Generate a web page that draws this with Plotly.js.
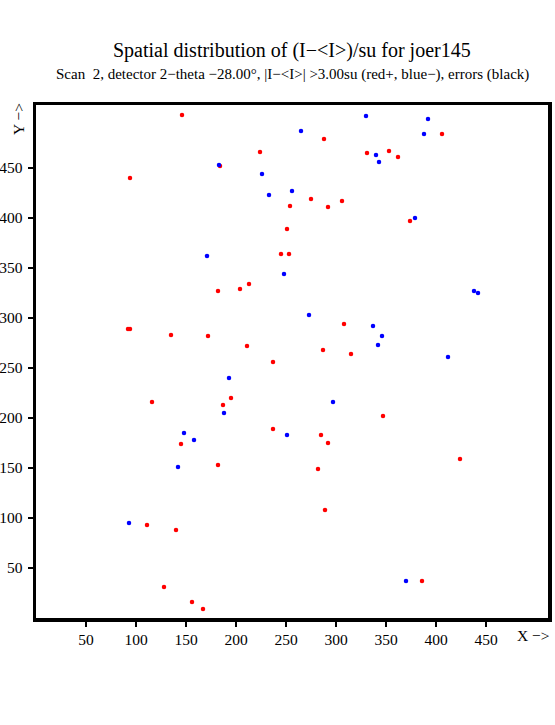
<!DOCTYPE html>
<html>
<head>
<meta charset="utf-8">
<script src="https://cdn.plot.ly/plotly-3.0.1.min.js"></script>
<style>html,body{margin:0;padding:0;background:#fff;}#chart{width:555px;height:725px;}</style>
</head>
<body>
<div id="chart"></div>
<script>
// Positive deviations (red+)
const redX = [146, 94, 184, 224, 288, 331, 353, 362, 406, 254, 275, 292, 306, 374, 251, 245, 253,
  182, 204, 213, 92, 94, 135, 172, 211, 237, 116, 195, 187, 237, 145, 308, 287, 315, 347, 285, 292,
  182, 111, 140, 128, 156, 167, 424, 282, 289, 386];
const redY = [503, 440, 452, 466, 479, 465, 467, 461, 484, 412, 419, 411, 417, 397, 389, 364, 364,
  327, 329, 334, 289, 289, 283, 282, 272, 256, 216, 220, 213, 189, 174, 294, 268, 264, 202, 183, 175,
  153, 93, 88, 31, 16, 9, 159, 149, 108, 37];
// Negative deviations (blue-)
const blueX = [183, 226, 233, 171, 330, 392, 265, 388, 340, 343, 256, 379, 248, 438, 442, 273, 337,
  346, 342, 412, 297, 251, 193, 188, 148, 158, 142, 93, 370];
const blueY = [453, 444, 423, 362, 502, 499, 487, 484, 463, 456, 427, 400, 344, 327, 325, 303, 292,
  282, 273, 261, 216, 183, 240, 205, 185, 178, 151, 95, 37];

const tickVals = [50, 100, 150, 200, 250, 300, 350, 400, 450];
const titleText = "Spatial distribution of (I−&lt;I&gt;)/su for joer145";
const subText = "Scan  2, detector 2−theta −28.00°, |I−&lt;I&gt;| &gt;3.00su (red+, blue−), errors (black)";

const serif = "Liberation Serif, Times New Roman, serif";

const traces = [
  {x: redX, y: redY, type: "scatter", mode: "markers", name: "red+",
   marker: {color: "#ff0000", size: 4.5}, hoverinfo: "x+y"},
  {x: blueX, y: blueY, type: "scatter", mode: "markers", name: "blue-",
   marker: {color: "#0000ff", size: 4.5}, hoverinfo: "x+y"}
];

const axisCommon = {
  showgrid: false, zeroline: false, showline: true, mirror: true,
  linecolor: "#000", linewidth: 3.5,
  ticks: "outside", ticklen: 5, tickwidth: 2, tickcolor: "#000",
  tickvals: tickVals, ticktext: tickVals.map(String),
  tickfont: {family: serif, size: 15.5, color: "#000"}
};

const layout = {
  width: 555, height: 725,
  margin: {l: 36, r: 7, t: 105, b: 107},
  paper_bgcolor: "#fff", plot_bgcolor: "#fff",
  showlegend: false,
  xaxis: Object.assign({}, axisCommon, {range: [0, 512]}),
  yaxis: Object.assign({}, axisCommon, {range: [0, 513], ticklabelstandoff: 2}),
  annotations: [
    {text: titleText, xref: "paper", yref: "paper", x: 0.5, y: 1, yshift: 55,
     xanchor: "center", yanchor: "middle", showarrow: false,
     font: {family: serif, size: 20, color: "#000"}},
    {text: subText, xref: "paper", yref: "paper", x: 0.5, y: 1, yshift: 31,
     xanchor: "center", yanchor: "middle", showarrow: false,
     font: {family: serif, size: 15, color: "#000"}},
    {text: "X −&gt;", xref: "paper", yref: "paper", x: 1, y: 0, xshift: -15, yshift: -17,
     xanchor: "center", yanchor: "middle", showarrow: false,
     font: {family: serif, size: 15.5, color: "#000"}},
    {text: "Y −&gt;", xref: "paper", yref: "paper", x: 0, y: 1, xshift: -18, yshift: -14,
     xanchor: "center", yanchor: "middle", showarrow: false, textangle: -90,
     font: {family: serif, size: 15.5, color: "#000"}}
  ]
};

Plotly.newPlot("chart", traces, layout, {displayModeBar: false, staticPlot: true});
</script>
</body>
</html>
